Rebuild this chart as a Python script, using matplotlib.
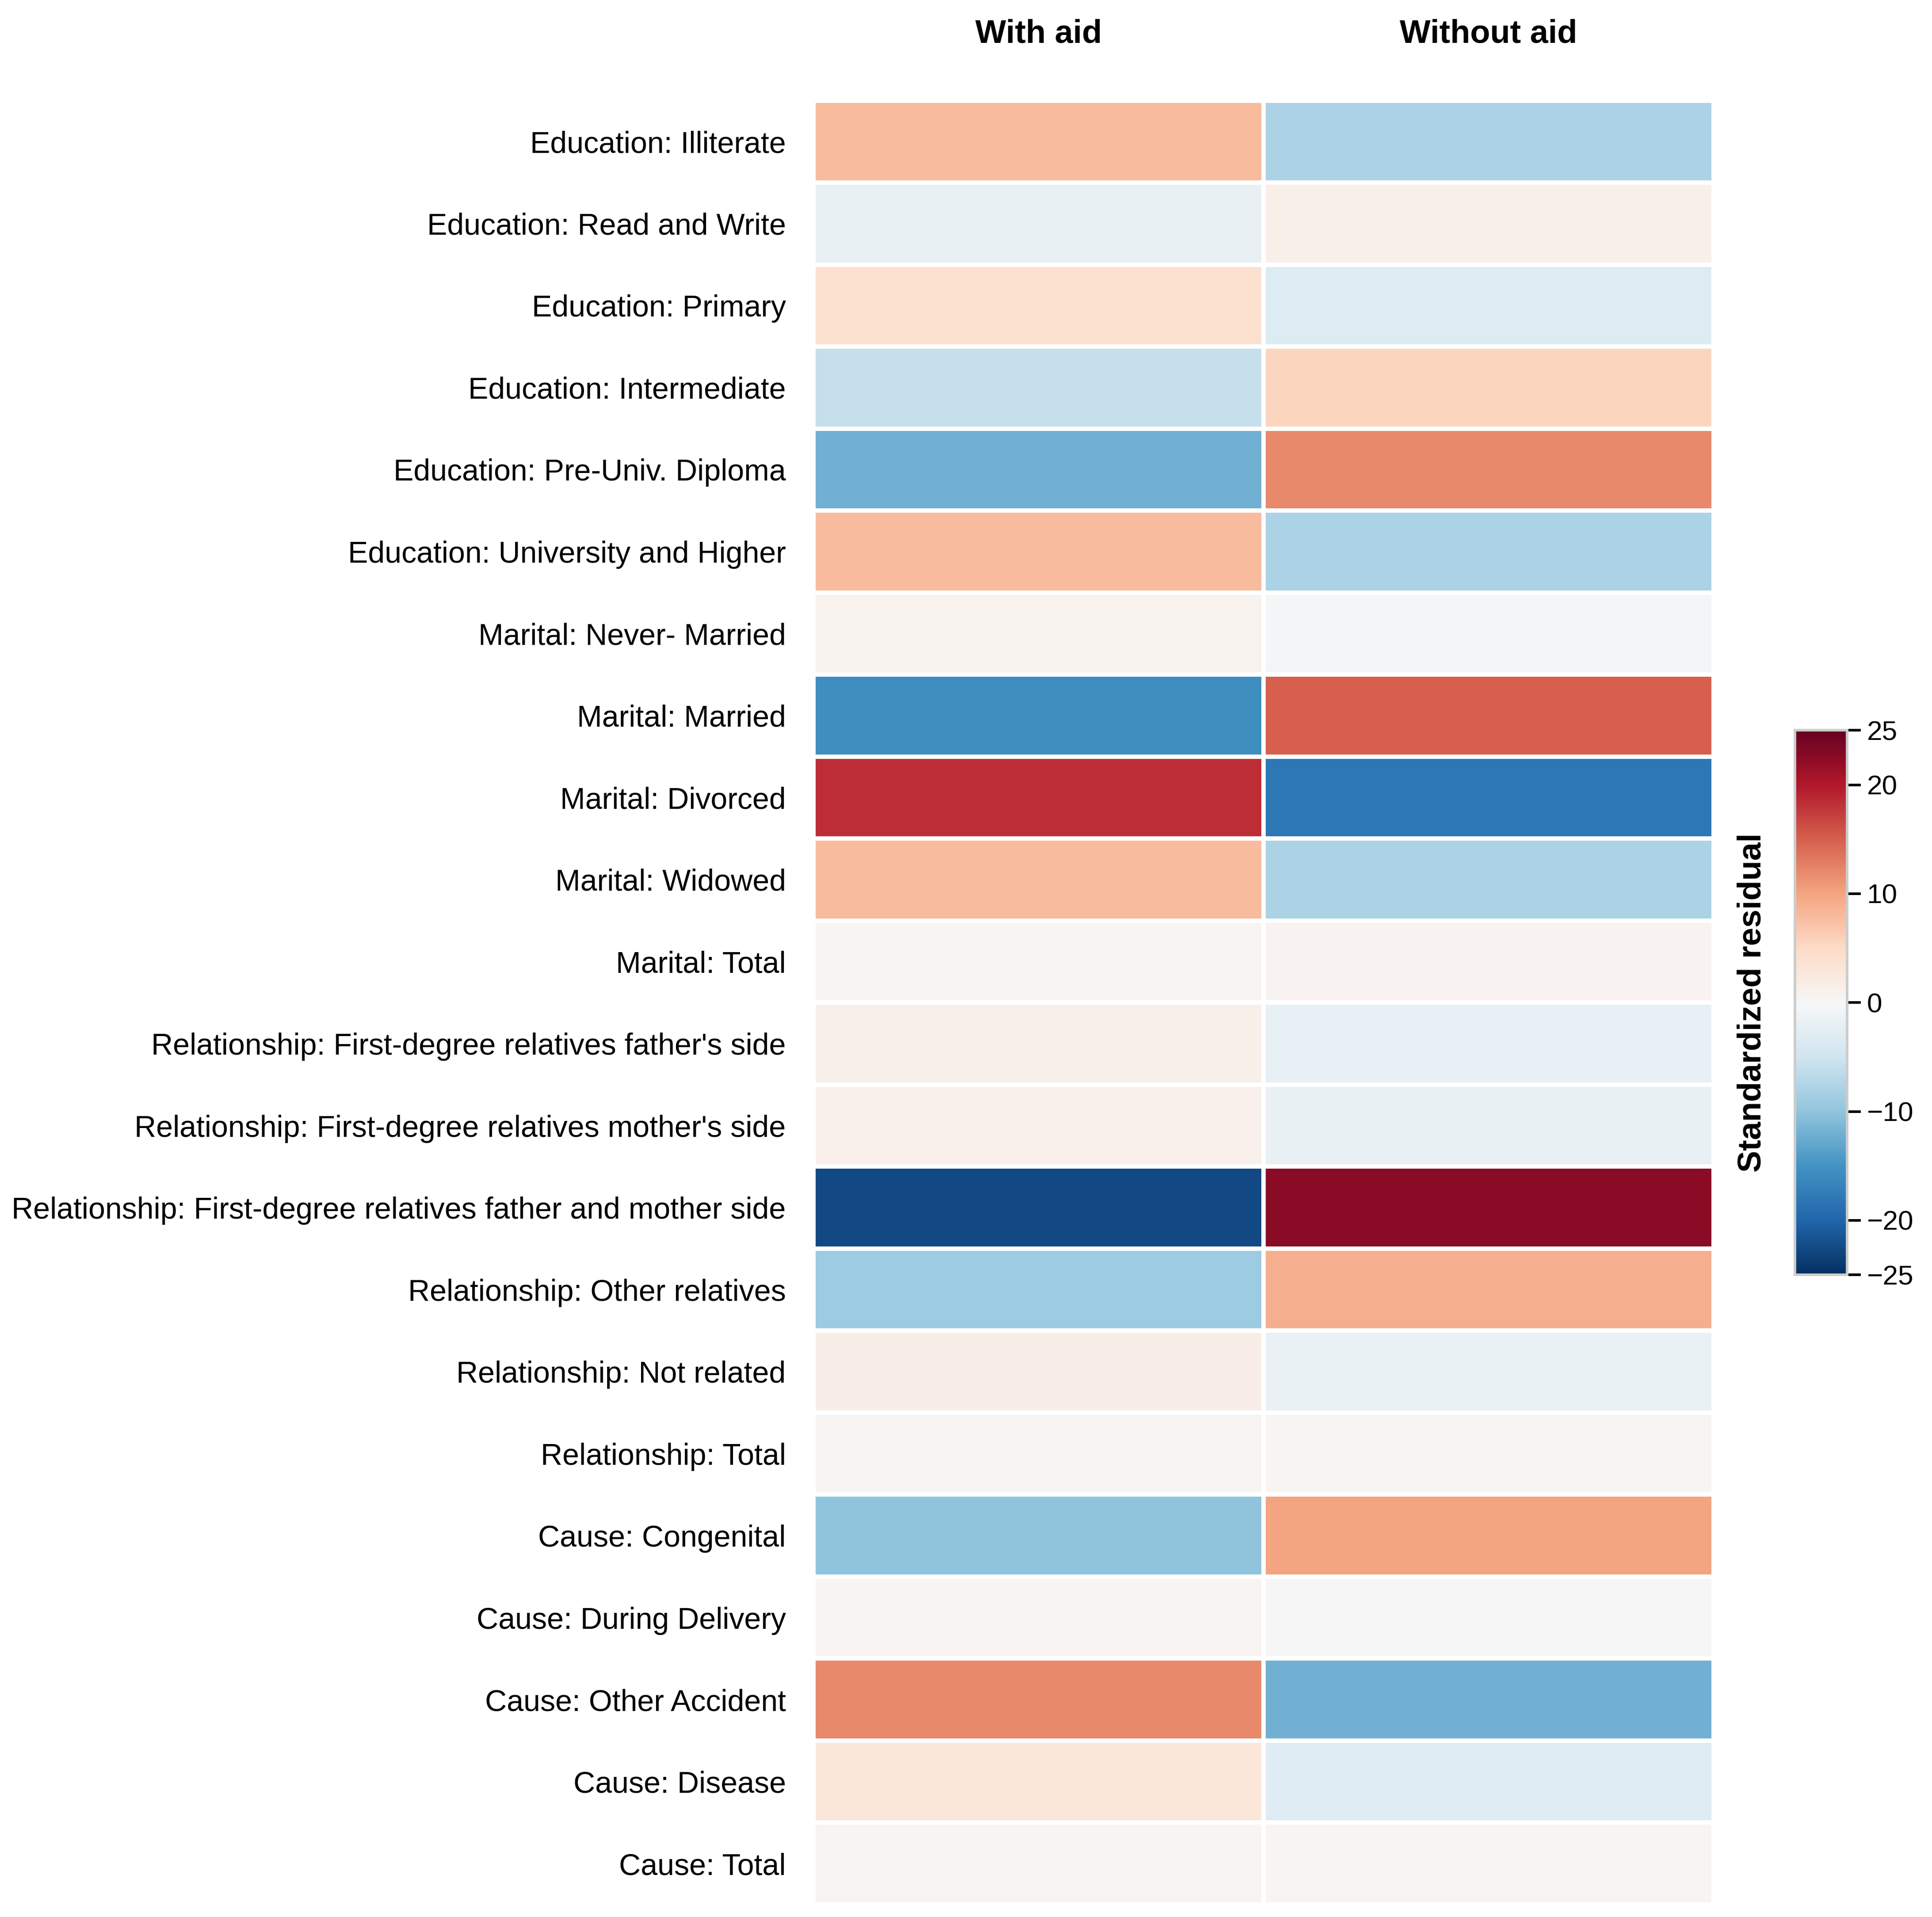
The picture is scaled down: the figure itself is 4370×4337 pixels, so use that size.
import matplotlib.pyplot as plt
import numpy as np

plt.rcParams['font.family'] = ['Liberation Sans', 'DejaVu Sans']

rows = [
    "Education: Illiterate",
    "Education: Read and Write",
    "Education: Primary",
    "Education: Intermediate",
    "Education: Pre-Univ. Diploma",
    "Education: University and Higher",
    "Marital: Never- Married",
    "Marital: Married",
    "Marital: Divorced",
    "Marital: Widowed",
    "Marital: Total",
    "Relationship: First-degree relatives father's side",
    "Relationship: First-degree relatives mother's side",
    "Relationship: First-degree relatives father and mother side",
    "Relationship: Other relatives",
    "Relationship: Not related",
    "Relationship: Total",
    "Cause: Congenital",
    "Cause: During Delivery",
    "Cause: Other Accident",
    "Cause: Disease",
    "Cause: Total",
]
columns = ["With aid", "Without aid"]

# standardized residuals
with_aid = [8.0, -1.8, 4.0, -6.0, -12.0, 8.0, 0.8, -15.5, 18.5, 8.0, 0.4,
            1.5, 1.3, -22.5, -9.0, 1.7, 0.4, -10.0, 0.4, 12.0, 3.0, 0.4]
without_aid = [-8.0, 1.5, -3.5, 5.5, 12.0, -8.0, -0.5, 15.0, -18.0, -8.0, 0.7,
               -2.0, -1.8, 22.5, 9.0, -1.7, 0.5, 10.0, 0.1, -12.0, -3.0, 0.4]
cbar_ticks = [25, 20, 10, 0, -10, -20, -25]

data = np.column_stack([with_aid, without_aid])

fig = plt.figure(figsize=(4370 / 280, 4337 / 280), dpi=280)
ax = fig.add_axes([0.421, 0.0065, 0.466, 0.941])

mesh = ax.pcolormesh(data, cmap='RdBu_r', vmin=-25, vmax=25,
                     edgecolors='white', linewidth=2.5)
ax.set_xlim(0, 2)
ax.set_ylim(len(rows), 0)
ax.set_yticks(np.arange(len(rows)) + 0.5)
ax.set_yticklabels(rows, fontsize=17.5)
ax.set_xticks(np.arange(2) + 0.5)
ax.set_xticklabels(columns, fontsize=19, fontweight='bold')
ax.xaxis.tick_top()
ax.tick_params(axis='both', length=0)
ax.tick_params(axis='y', pad=16)
ax.tick_params(axis='x', pad=30)
for s in ax.spines.values():
    s.set_visible(False)

cax = fig.add_axes([0.929, 0.335, 0.027, 0.284])
cb = fig.colorbar(mesh, cax=cax, ticks=cbar_ticks)
cb.outline.set_edgecolor('#cccccc')
cb.outline.set_linewidth(1.5)
cax.tick_params(labelsize=16, length=8, width=1.5, direction='out')
cax.yaxis.set_label_position('left')
cb.set_label('Standardized residual', fontsize=19, fontweight='bold', labelpad=16)

fig.savefig('out.png', dpi=280)
